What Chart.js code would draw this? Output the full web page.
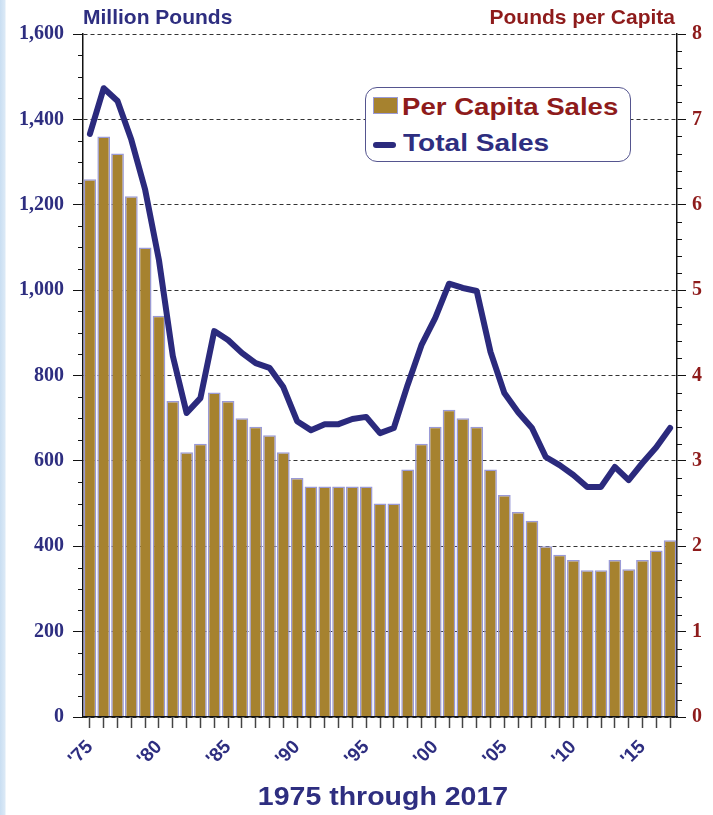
<!DOCTYPE html>
<html>
<head>
<meta charset="utf-8">
<script src="https://cdn.jsdelivr.net/npm/chart.js@4"></script>
<style>
  body { margin: 0; background: #fff; }
  #wrap {
    position: relative; width: 713px; height: 815px; overflow: hidden;
    background: linear-gradient(to right, #c9def2 0, #dbe9f6 5px, #fff 6px);
    font-family: "Liberation Sans", Arial, sans-serif; font-weight: bold;
  }
  canvas { position: absolute; left: 0; top: 0; }
  .txt { position: absolute; line-height: 1; white-space: nowrap; }
  #legend {
    position: absolute; left: 365px; top: 87px; width: 264px; height: 73px;
    border: 1.5px solid #55558f; border-radius: 12px; background: #fff;
  }
</style>
</head>
<body>
<div id="wrap">
  <canvas id="chart" width="713" height="815"></canvas>
  <div class="txt" style="left:83px;top:6px;font-size:21px;color:#2e2e80;">Million Pounds</div>
  <div class="txt" style="right:38px;top:6px;font-size:21px;color:#8e1b1b;">Pounds per Capita</div>
  <div class="txt" style="left:383px;top:784px;font-size:25px;color:#2e2e80;transform:translateX(-50%) scaleX(1.14);">1975 through 2017</div>
  <div id="legend">
    <div style="position:absolute;left:7px;top:9px;width:23px;height:15px;background:#a6822f;border:1.5px solid #9a9ad6;"></div>
    <div class="txt" style="left:36px;top:7px;font-size:24px;color:#8e1b1b;transform:scaleX(1.15);transform-origin:left;">Per Capita Sales</div>
    <div style="position:absolute;left:7px;top:54px;width:23px;height:6px;background:#2b2a7d;border-radius:3px;"></div>
    <div class="txt" style="left:37px;top:43px;font-size:24px;color:#2e2e80;transform:scaleX(1.17);transform-origin:left;">Total Sales</div>
  </div>
</div>
<script>
const years = [1975, 1976, 1977, 1978, 1979, 1980, 1981, 1982, 1983, 1984,
  1985, 1986, 1987, 1988, 1989, 1990, 1991, 1992, 1993, 1994,
  1995, 1996, 1997, 1998, 1999, 2000, 2001, 2002, 2003, 2004,
  2005, 2006, 2007, 2008, 2009, 2010, 2011, 2012, 2013, 2014,
  2015, 2016, 2017];

// pounds per capita (right axis)
const perCapita = [6.3, 6.8, 6.6, 6.1, 5.5, 4.7, 3.7, 3.1, 3.2, 3.8,
  3.7, 3.5, 3.4, 3.3, 3.1, 2.8, 2.7, 2.7, 2.7, 2.7,
  2.7, 2.5, 2.5, 2.9, 3.2, 3.4, 3.6, 3.5, 3.4, 2.9,
  2.6, 2.4, 2.3, 2.0, 1.9, 1.84, 1.72, 1.72, 1.84, 1.73,
  1.84, 1.95, 2.07];

// million pounds (left axis)
const totalSales = [1366, 1473, 1443, 1352, 1235, 1070, 846, 712, 747, 904,
  883, 853, 829, 818, 773, 693, 672, 686, 686, 698,
  703, 665, 677, 778, 871, 935, 1015, 1005, 998, 855,
  759, 714, 677, 609, 590, 567, 539, 539, 586, 555,
  595, 632, 677];

const labeledYears = [1975, 1980, 1985, 1990, 1995, 2000, 2005, 2010, 2015];

const navy = '#2e2e80';
const red = '#8e1b1b';

const minorTicks = {
  id: 'minorTicks',
  afterDraw(chart) {
    const ctx = chart.ctx;
    const l = chart.scales.yL, r = chart.scales.yR;
    ctx.save();
    ctx.strokeStyle = '#111';
    ctx.lineWidth = 1;
    ctx.beginPath();
    for (let v = 50; v < 1600; v += 50) {
      if (v % 200 === 0) continue;
      const y = Math.round(l.getPixelForValue(v)) + 0.5;
      ctx.moveTo(l.right - 5, y); ctx.lineTo(l.right, y);
    }
    for (let i = 1; i < 40; i++) {
      if (i % 5 === 0) continue;
      const y = Math.round(r.getPixelForValue(i / 5)) + 0.5;
      ctx.moveTo(r.left, y); ctx.lineTo(r.left + 5, y);
    }
    ctx.stroke();
    ctx.restore();
  }
};

new Chart(document.getElementById('chart'), {
  type: 'bar',
  data: {
    labels: years,
    datasets: [
      {
        type: 'line',
        label: 'Total Sales',
        data: totalSales,
        yAxisID: 'yL',
        borderColor: '#2b2a7d',
        borderWidth: 6,
        pointRadius: 0,
        tension: 0,
        borderJoinStyle: 'round',
        borderCapStyle: 'round',
        order: 0
      },
      {
        label: 'Per Capita Sales',
        data: perCapita,
        yAxisID: 'yR',
        backgroundColor: '#a6822f',
        borderColor: '#9a9ad6',
        borderWidth: 1.5,
        categoryPercentage: 0.92,
        barPercentage: 1,
        order: 1
      }
    ]
  },
  options: {
    responsive: false,
    animation: false,
    layout: { padding: { top: 34, left: 0, right: 0, bottom: 0 } },
    plugins: { legend: { display: false }, tooltip: { enabled: false } },
    scales: {
      x: {
        grid: { drawOnChartArea: false, offset: false, tickLength: 11, tickColor: '#444', tickWidth: 1.5 },
        border: { color: '#111', width: 1.5, z: 1 },
        ticks: {
          autoSkip: false, maxRotation: 45, minRotation: 45, padding: 8,
          color: navy, font: { family: '"Liberation Sans", Arial, sans-serif', weight: 'bold', size: 19 },
          callback: (v, i) => labeledYears.includes(years[i]) ? "'" + String(years[i]).slice(2) : ''
        },
        afterFit: s => { s.height = 98; }
      },
      yL: {
        position: 'left', min: 0, max: 1600,
        grid: { color: '#333', lineWidth: 1, tickLength: 10, tickColor: '#111' },
        border: { color: '#111', width: 1.5, dash: [4, 3] },
        ticks: {
          stepSize: 200, padding: 9, color: navy,
          font: { family: '"Liberation Serif", "Times New Roman", serif', weight: 'bold', size: 20 },
          callback: v => v.toLocaleString('en-US')
        },
        afterFit: s => { s.width = 83; }
      },
      yR: {
        position: 'right', min: 0, max: 8,
        grid: { drawOnChartArea: false, tickLength: 9, tickColor: '#111' },
        border: { color: '#111', width: 1.5 },
        ticks: {
          stepSize: 1, padding: 6, color: red,
          font: { family: '"Liberation Serif", "Times New Roman", serif', weight: 'bold', size: 20 }
        },
        afterFit: s => { s.width = 36; }
      }
    }
  },
  plugins: [minorTicks]
});
</script>
</body>
</html>
